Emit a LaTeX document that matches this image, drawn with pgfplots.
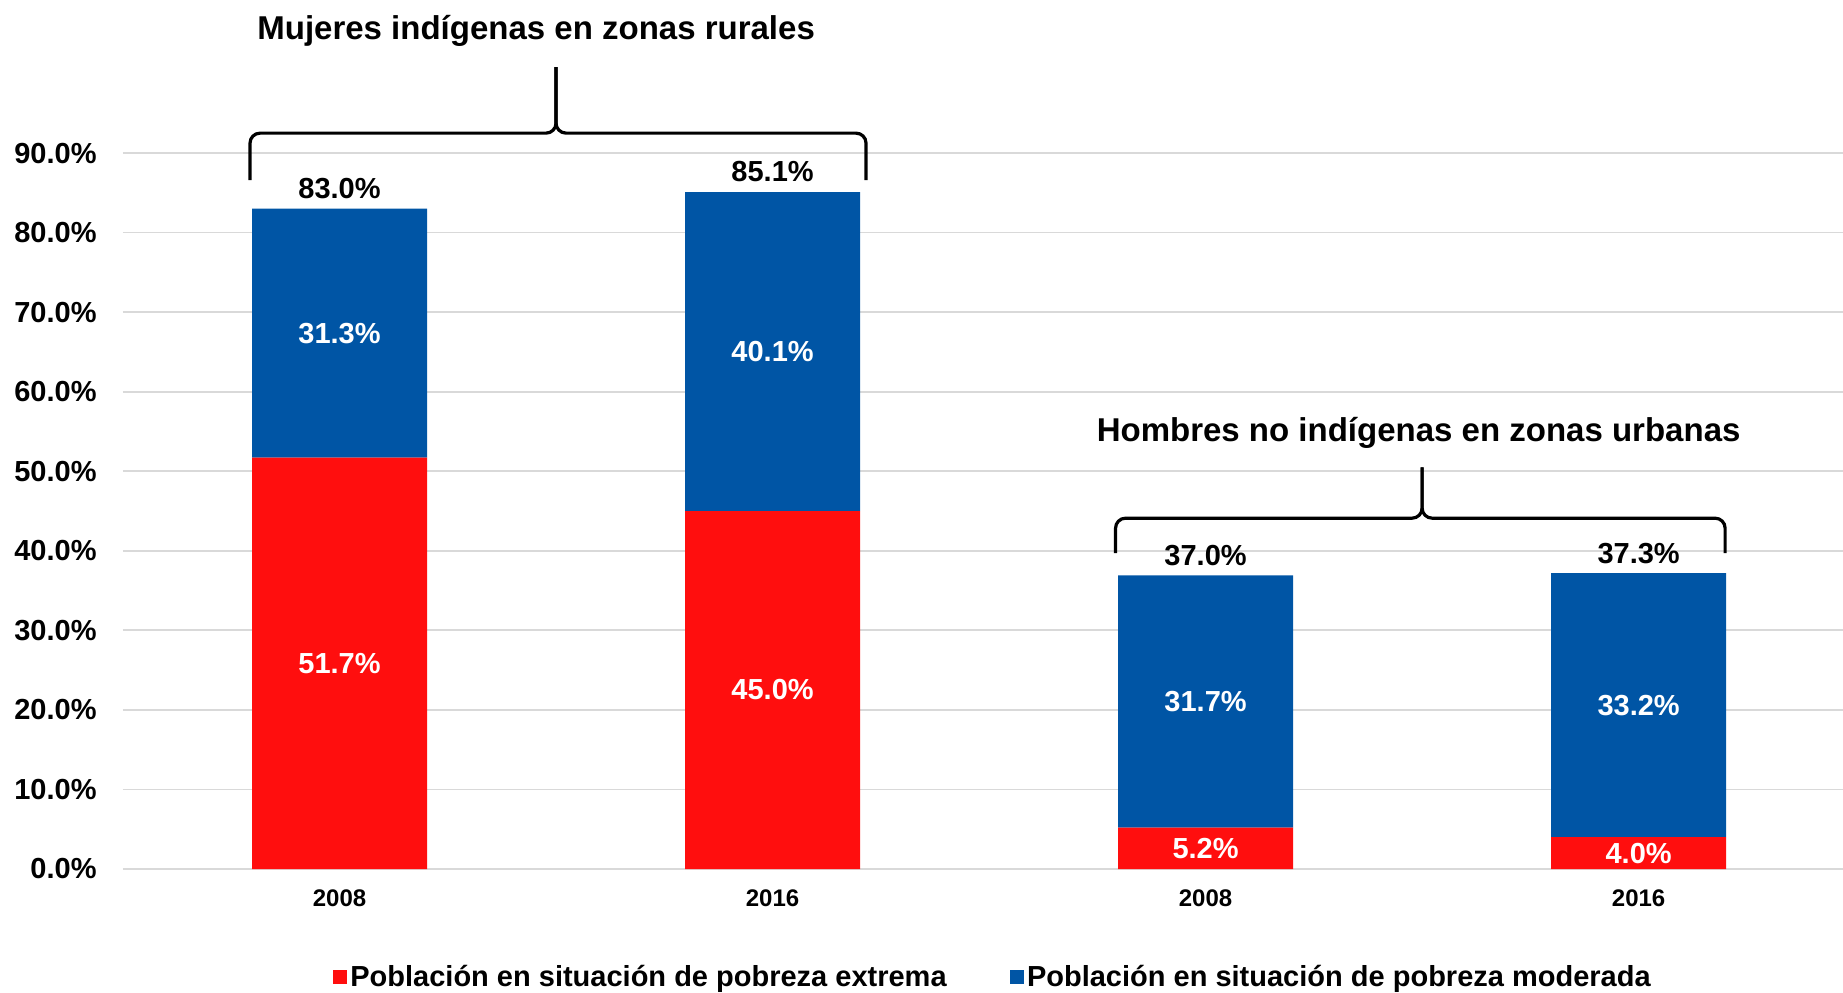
\documentclass[border=0pt]{standalone}
\usepackage{fontspec}
\setmainfont{Liberation Sans}
\usepackage{pgfplots}
\pgfplotsset{compat=1.18}
\definecolor{rojo}{RGB}{255,14,14}
\definecolor{azul}{RGB}{0,85,165}
\definecolor{gridc}{RGB}{217,217,217}
\pgfplotsset{
  commonaxis/.style={
    at={(0pt,0pt)}, anchor=south west,
    scale only axis, width=860pt, height=358pt,
    xmin=-0.5, xmax=3.472, ymin=0, ymax=90,
    clip=false,
  },
}
\begin{document}
\begin{tikzpicture}
\path[use as bounding box] (-61.5pt,-61.5pt) rectangle (860pt,434.5pt);
\begin{axis}[
  commonaxis,
  ybar stacked, bar width=87.5pt,
  axis line style={draw=none},
  tick style={draw=none},
  ymajorgrids, grid style={color=gridc, line width=0.9pt},
  ytick={0,10,...,90},
  yticklabels={0.0\%,10.0\%,20.0\%,30.0\%,40.0\%,50.0\%,60.0\%,70.0\%,80.0\%,90.0\%},
  yticklabel style={font=\fontsize{14.5}{17}\selectfont\bfseries, anchor=east, inner sep=0pt, xshift=-13pt},
  xtick={0,1,2,3},
  xticklabels={2008,2016,2008,2016},
  xticklabel style={font=\fontsize{12}{14}\selectfont\bfseries, anchor=north, inner sep=0pt, yshift=-10pt},
  legend style={draw=none, fill=none, at={(axis description cs:0.506,-0.151)}, anchor=center,
    legend columns=2, font=\fontsize{14.5}{17}\selectfont\bfseries,
    /tikz/every even column/.append style={column sep=30pt}, nodes={inner sep=1.5pt}},
  legend image code/.code={\fill[#1] (0pt,-3.6pt) rectangle (7.2pt,3.6pt);},
]
\addplot[fill=rojo, draw=none] coordinates {(0,51.7) (1,45.0) (2,5.2) (3,4.0)};
\addplot[fill=azul, draw=none] coordinates {(0,31.3) (1,40.1) (2,31.7) (3,33.2)};
\legend{Población en situación de pobreza extrema, Población en situación de pobreza moderada}
\draw[line width=1.6pt, rounded corners=5pt] (axis cs:-0.2067,86.6) -- (axis cs:-0.2067,92.5) -- (axis cs:0.5,92.5) -- (axis cs:0.5,100.8);
\draw[line width=1.6pt, rounded corners=5pt] (axis cs:1.2159,86.6) -- (axis cs:1.2159,92.5) -- (axis cs:0.5,92.5) -- (axis cs:0.5,100.8);
\draw[line width=1.6pt, rounded corners=5pt] (axis cs:1.7921,39.7) -- (axis cs:1.7921,44.1) -- (axis cs:2.5,44.1) -- (axis cs:2.5,50.5);
\draw[line width=1.6pt, rounded corners=5pt] (axis cs:3.1998,39.7) -- (axis cs:3.1998,44.1) -- (axis cs:2.5,44.1) -- (axis cs:2.5,50.5);
\node[anchor=base, font=\fontsize{16.5}{20}\selectfont\bfseries] at (axis cs:0.454,104.3) {Mujeres indígenas en zonas rurales};
\node[anchor=base, font=\fontsize{16.5}{20}\selectfont\bfseries] at (axis cs:2.492,53.7) {Hombres no indígenas en zonas urbanas};
\end{axis}
\begin{axis}[commonaxis, hide axis]
% labels inside the segments (segment midpoints)
\addplot[draw=none, mark=none, point meta=explicit symbolic, nodes near coords,
  nodes near coords style={font=\fontsize{14.5}{17}\selectfont\bfseries, text=white, anchor=center, inner sep=0pt}]
  coordinates {(0,25.85)[51.7\%] (1,22.5)[45.0\%] (2,2.6)[5.2\%] (3,2.0)[4.0\%]};
\addplot[draw=none, mark=none, point meta=explicit symbolic, nodes near coords,
  nodes near coords style={font=\fontsize{14.5}{17}\selectfont\bfseries, text=white, anchor=center, inner sep=0pt}]
  coordinates {(0,67.35)[31.3\%] (1,65.05)[40.1\%] (2,21.05)[31.7\%] (3,20.6)[33.2\%]};
% totals above the bars
\addplot[draw=none, mark=none, point meta=explicit symbolic, nodes near coords,
  nodes near coords style={font=\fontsize{14.5}{17}\selectfont\bfseries, text=black, anchor=base, inner sep=0pt, yshift=5pt}]
  coordinates {(0,83.0)[83.0\%] (1,85.1)[85.1\%] (2,36.9)[37.0\%] (3,37.2)[37.3\%]};
\end{axis}
\end{tikzpicture}
\end{document}
